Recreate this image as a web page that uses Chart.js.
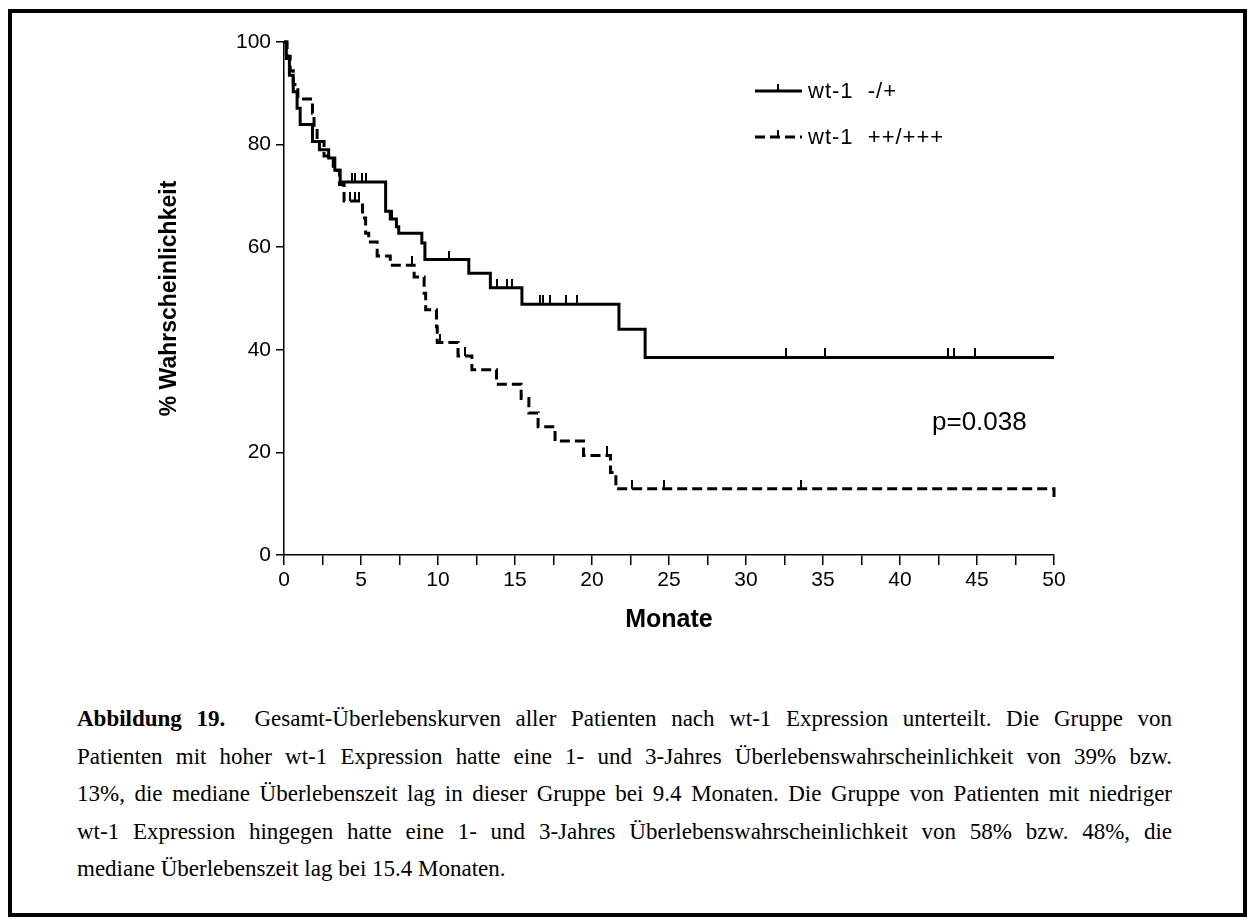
<!DOCTYPE html>
<html>
<head>
<meta charset="utf-8">
<script src="https://cdn.jsdelivr.net/npm/chart.js@4.4.1/dist/chart.umd.min.js"></script>
<style>
  body { margin: 0; background: #fff; }
  #page { position: relative; width: 1251px; height: 924px; overflow: hidden; }
  #frame { position: absolute; left: 8px; top: 9px; width: 1231px; height: 900px; border: 4px solid #000; }
  #plot { position: absolute; left: 0; top: 0; width: 1251px; height: 660px; }
  #caption { position: absolute; left: 77px; top: 706px; width: 1095px;
             font-family: "Liberation Serif", "Times New Roman", serif; font-size: 23px; color: #000; }
  #caption div { height: 37.5px; text-align: justify; text-align-last: justify; white-space: nowrap; }
  #caption div.last { text-align-last: left; }
</style>
</head>
<body>
<div id="page">
  <div id="frame"></div>
  <div id="plot"><canvas id="km"></canvas></div>
  <div id="caption">
    <div><b>Abbildung 19.</b>&nbsp; Gesamt-Überlebenskurven aller Patienten nach wt-1 Expression unterteilt. Die Gruppe von</div>
    <div>Patienten mit hoher wt-1 Expression hatte eine 1- und 3-Jahres Überlebenswahrscheinlichkeit von 39% bzw.</div>
    <div>13%, die mediane Überlebenszeit lag in dieser Gruppe bei 9.4 Monaten. Die Gruppe von Patienten mit niedriger</div>
    <div>wt-1 Expression hingegen hatte eine 1- und 3-Jahres Überlebenswahrscheinlichkeit von 58% bzw. 48%, die</div>
    <div class="last">mediane Überlebenszeit lag bei 15.4 Monaten.</div>
  </div>
</div>
<script>
// wt-1 -/+ (solid)
var lowTime = [0, 0.15, 0.35, 0.6, 0.85, 1.05, 1.85, 2.3, 2.9, 3.3, 3.65, 6.6, 6.9, 7.3, 7.45, 8.95, 9.15, 12.0, 13.4, 15.45, 21.75, 23.45, 50]
var lowSurv = [100, 96.8, 93.5, 90.3, 87.1, 83.9, 80.6, 79.0, 77.4, 75.0, 72.7, 67.0, 65.5, 64.0, 62.7, 60.8, 57.6, 54.9, 52.1, 48.9, 44.0, 38.5, 38.5]
var lowCensTime = [4.4, 4.6, 5.05, 5.3, 7.0, 10.7, 13.85, 14.45, 14.8, 16.65, 16.85, 17.3, 18.3, 19.0, 32.6, 35.1, 43.1, 43.5, 44.9]
var lowCensSurv = [72.7, 72.7, 72.7, 72.7, 65.5, 57.6, 52.1, 52.1, 52.1, 48.9, 48.9, 48.9, 48.9, 48.9, 38.5, 38.5, 38.5, 38.5, 38.5]

// wt-1 ++/+++ (dashed)
var highTime = [0, 0.2, 0.4, 0.6, 0.9, 1.85, 1.95, 2.15, 2.6, 3.2, 3.6, 3.9, 5.1, 5.3, 5.5, 6.05, 6.9, 8.45, 9.1, 9.2, 9.9, 9.95, 11.3, 12.2, 13.8, 15.4, 15.9, 16.5, 17.6, 19.45, 21.2, 21.55, 50, 50]
var highSurv = [100, 97.2, 94.4, 91.7, 88.9, 86.1, 83.3, 80.6, 77.8, 75.0, 72.2, 69.0, 65.7, 62.7, 61.0, 58.3, 56.5, 54.2, 51.0, 47.8, 44.5, 41.4, 38.8, 36.1, 33.3, 30.5, 27.7, 25.0, 22.2, 19.4, 16.1, 12.9, 12.9, 10.5]
var highCensTime = [4.3, 4.6, 4.9, 8.3, 10.1, 11.75, 21.0, 22.6, 24.7, 33.6]
var highCensSurv = [69.0, 69.0, 69.0, 56.5, 41.4, 38.8, 19.4, 12.9, 12.9, 12.9]

var groupLabels = ["wt-1  -/+", "wt-1  ++/+++"]
var pText = "p=0.038"

function pts(xs, ys) {
    return xs.map(function (x, i) { return { x: x, y: ys[i] }; });
}

// censor mark: short upward tick
var tick = document.createElement("canvas");
tick.width = 2; tick.height = 18;
var tc = tick.getContext("2d");
tc.fillStyle = "#000";
tc.fillRect(0, 0, 2, 9);

var kmLegend = {
    id: "kmLegend",
    afterDraw: function (chart) {
        var ctx = chart.ctx;
        ctx.save();
        ctx.strokeStyle = "#000";
        ctx.fillStyle = "#000";
        ctx.lineWidth = 3;
        var rows = [91, 137];
        rows.forEach(function (y, i) {
            ctx.setLineDash(i === 0 ? [] : [10, 5]);
            ctx.beginPath();
            ctx.moveTo(755, y);
            ctx.lineTo(802, y);
            ctx.stroke();
            ctx.setLineDash([]);
            ctx.fillRect(777, y - 7, 2, 7);
            ctx.font = "22px 'Liberation Sans', Arial, sans-serif";
            ctx.textBaseline = "middle";
            if ("letterSpacing" in ctx) ctx.letterSpacing = "1px";
            ctx.fillText(groupLabels[i], 808, y + 1);
        });
        if ("letterSpacing" in ctx) ctx.letterSpacing = "0px";
        ctx.font = "26px 'Liberation Sans', Arial, sans-serif";
        ctx.textBaseline = "middle";
        ctx.fillText(pText, 932, 423);
        ctx.restore();
    }
};

new Chart(document.getElementById("km"), {
    type: "line",
    data: {
        datasets: [{
            label: groupLabels[0],
            data: pts(lowTime, lowSurv),
            stepped: "before",
            borderColor: "#000",
            borderWidth: 3,
            pointRadius: 0,
            fill: false,
            clip: false
        }, {
            label: groupLabels[1],
            data: pts(highTime, highSurv),
            stepped: "before",
            borderColor: "#000",
            borderWidth: 3,
            borderDash: [10, 5],
            pointRadius: 0,
            fill: false,
            clip: false
        }, {
            label: "censored -/+",
            data: pts(lowCensTime, lowCensSurv),
            showLine: false,
            pointStyle: tick,
            pointRadius: 4,
            clip: false
        }, {
            label: "censored ++/+++",
            data: pts(highCensTime, highCensSurv),
            showLine: false,
            pointStyle: tick,
            pointRadius: 4,
            clip: false
        }]
    },
    options: {
        responsive: true,
        maintainAspectRatio: false,
        animation: false,
        layout: { padding: { left: 0, top: 42, right: 197, bottom: 0 } },
        plugins: {
            legend: { display: false },
            tooltip: { enabled: false }
        },
        scales: {
            x: {
                type: "linear",
                min: 0,
                max: 50,
                ticks: {
                    stepSize: 2.5,
                    autoSkip: false,
                    maxRotation: 0,
                    color: "#000",
                    padding: 3,
                    font: { family: "'Liberation Sans', Arial, sans-serif", size: 21 },
                    callback: function (v) { return v % 5 === 0 ? v : ""; }
                },
                grid: { drawOnChartArea: false, drawTicks: true, tickLength: 10, color: "#000", lineWidth: 1.5 },
                border: { color: "#000", width: 1.5 },
                title: {
                    display: true,
                    text: "Monate",
                    color: "#000",
                    font: { family: "'Liberation Sans', Arial, sans-serif", size: 25, weight: "bold" },
                    padding: { top: 4, bottom: 25 }
                },
                afterFit: function (s) { s.height = 105; }
            },
            y: {
                min: 0,
                max: 100,
                ticks: {
                    stepSize: 20,
                    color: "#000",
                    padding: 5,
                    font: { family: "'Liberation Sans', Arial, sans-serif", size: 21 }
                },
                grid: { drawOnChartArea: false, drawTicks: true, tickLength: 8, color: "#000", lineWidth: 1.5 },
                border: { color: "#000", width: 1.5 },
                title: {
                    display: true,
                    text: "% Wahrscheinlichkeit",
                    color: "#000",
                    font: { family: "'Liberation Sans', Arial, sans-serif", size: 23, weight: "bold" },
                    padding: { top: 156, bottom: 0 }
                },
                afterFit: function (s) { s.width = 284; }
            }
        }
    },
    plugins: [kmLegend]
});
</script>
</body>
</html>
